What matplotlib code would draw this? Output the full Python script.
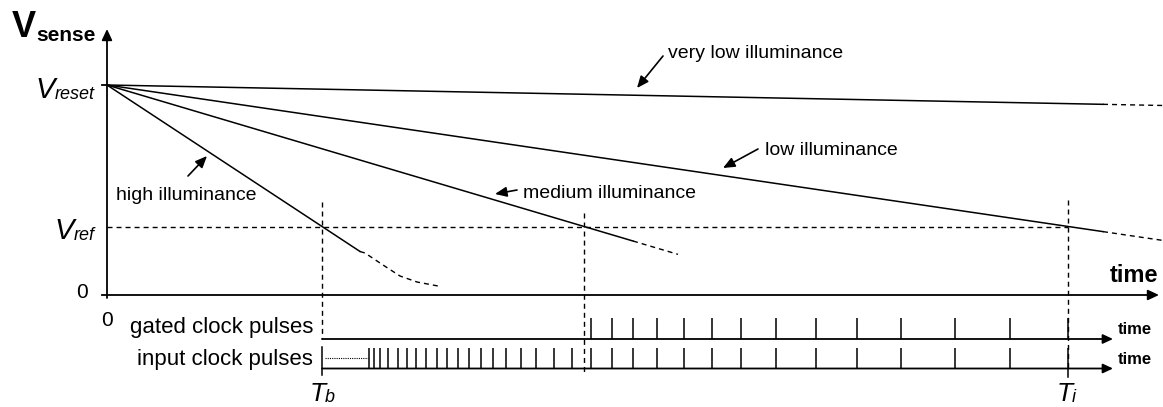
import matplotlib
matplotlib.use("Agg")
import matplotlib.pyplot as plt
from matplotlib import font_manager

plt.rcParams['font.family'] = ['Liberation Sans', 'DejaVu Sans']

# --- diagram values (time / voltage in drawing units, origin = axes origin) ---
v_reset = 210
v_ref = 68.5
t_b = 215          # high illuminance reaches Vref
t_med = 477        # medium illuminance reaches Vref
t_i = 961          # integration end

curve_names = ['high illuminance', 'medium illuminance', 'low illuminance', 'very low illuminance']
slopes = [0.658, 0.2966, 0.1472, 0.0194]
t_solid_end = [253, 526, 996, 996]
t_dash_end = [None, 571, 1056, 1056]

# saturating tail of the high illuminance curve
high_tail_t = [253, 258, 276, 293, 310, 331]
high_tail_v = [43.5, 42, 30, 19, 13, 9]

input_pulses = [262, 267, 273, 281, 291, 300, 309, 319, 330, 340, 351, 362, 374, 386,
                399, 414, 429, 447, 465, 484, 505, 526, 550, 577, 605, 634, 669, 709,
                750, 794, 848, 903, 961]
gated_pulses = [p for p in input_pulses if p >= t_med]

fams = {f.name for f in font_manager.fontManager.ttflist}
if 'Liberation Sans Narrow' in fams:
    lab_font, lab_size = 'Liberation Sans Narrow', 17
else:
    lab_font, lab_size = 'Liberation Sans', 14

fig = plt.figure(figsize=(11.63, 4.07), dpi=100)
ax = fig.add_axes([0, 0, 1, 1])
ax.set_xlim(-107, 1056)
ax.set_ylim(-112, 295)
ax.axis('off')

K = 'black'
dash = (0, (3.6, 2.9))

def arrow(tail, head, ms=11, hl=0.6, hw=0.28, lw=1.3):
    ax.annotate('', xy=head, xytext=tail,
                arrowprops=dict(arrowstyle=f'-|>,head_length={hl},head_width={hw}',
                                mutation_scale=ms, lw=lw, color=K,
                                shrinkA=0, shrinkB=0))

# axes
arrow((0, -3), (0, 266))
arrow((0, 0), (1052, 0))
ax.plot([-5, 0], [v_reset, v_reset], color=K, lw=1.3)
ax.plot([-5, 0], [0, 0], color=K, lw=1.3)

# Vref level
ax.plot([0, t_i], [v_ref, v_ref], color=K, lw=1.0, ls=dash)

# discharge curves
for k, s in enumerate(slopes):
    te = t_solid_end[k]
    ax.plot([0, te], [v_reset, v_reset - s * te], color=K, lw=1.1)
    if t_dash_end[k] is not None:
        td = t_dash_end[k]
        ax.plot([te, td], [v_reset - s * te, v_reset - s * td], color=K, lw=1.0, ls=dash)
ax.plot(high_tail_t, high_tail_v, color=K, lw=1.0, ls=dash)

# clock rows
y_gate, y_in, h = -44, -73.5, 21
arrow((t_b, y_gate), (1006, y_gate), ms=10, lw=1.3)
arrow((t_b, y_in), (1006, y_in), ms=10, lw=1.3)
ax.vlines(gated_pulses, y_gate, y_gate + h, color=K, lw=1.1)
ax.vlines(input_pulses, y_in, y_in + h, color=K, lw=1.1)
ax.plot([t_b + 3, input_pulses[0] - 1], [-63, -63], color=K, lw=0.8, ls=(0, (1, 1)))

# vertical markers
ax.plot([t_b, t_b], [93, y_gate], color=K, lw=1.0, ls=dash)
ax.plot([t_b, t_b], [-52, -80], color=K, lw=1.1)
ax.plot([t_med, t_med], [82, -77], color=K, lw=1.0, ls=dash)
ax.plot([t_i, t_i], [95, y_in], color=K, lw=1.0, ls=dash)
ax.plot([t_i, t_i], [y_in, -82], color=K, lw=1.1)

# curve labels with pointer arrows
lab_pos = [(9, 95), (416, 97), (658, 140), (561, 237)]
ptr = [((81, 119), (100, 139)), ((410, 105), (388, 101)),
       ((651, 146), (616, 127)), ((556, 239), (530, 207))]
for name, (x, y), (tl, hd) in zip(curve_names, lab_pos, ptr):
    ax.text(x, y, name, family=lab_font, fontsize=lab_size, ha='left', va='baseline')
    arrow(tl, hd, ms=10, hl=0.7, hw=0.3, lw=1.2)

# axis texts
vs = ax.text(-95, 258, 'V', fontsize=26, fontweight='bold', ha='left', va='baseline')
ax.annotate('sense', xy=(1, 0), xycoords=vs, xytext=(0, 0), textcoords='offset points',
            fontsize=15, fontweight='bold', ha='left', va='bottom')

def right_sub(x, y, main, sub):
    st = ax.text(x, y, sub, fontsize=13, style='italic', ha='right', va='baseline')
    ax.annotate(main, xy=(0, 0), xycoords=st, xytext=(0, -0.7), textcoords='offset points',
                fontsize=21, style='italic', ha='right', va='bottom')

right_sub(-12, 196, 'V', 'reset')
right_sub(-12, 55, 'V', 'ref')

def left_sub(x, y, main, sub):
    mt = ax.text(x, y, main, fontsize=19, style='italic', ha='left', va='baseline')
    ax.annotate(sub, xy=(1, 0), xycoords=mt, xytext=(-1, 0), textcoords='offset points',
                fontsize=13, style='italic', ha='left', va='bottom')

left_sub(203, -106, 'T', 'b')
left_sub(950, -106, 'T', 'i')

ax.text(-25, 2, '0', fontsize=15, ha='center', va='center')
ax.text(0, -25, '0', fontsize=15, ha='center', va='center')
ax.text(1003, 20, 'time', fontsize=17, fontweight='bold', ha='left', va='center')
ax.text(1011, -35, 'time', fontsize=12, fontweight='bold', ha='left', va='center')
ax.text(1011, -64, 'time', fontsize=12, fontweight='bold', ha='left', va='center')
ax.text(206, -32, 'gated clock pulses', fontsize=16, ha='right', va='center')
ax.text(206, -65, 'input clock pulses', fontsize=16, ha='right', va='center')

fig.savefig('out.png', dpi=100)
